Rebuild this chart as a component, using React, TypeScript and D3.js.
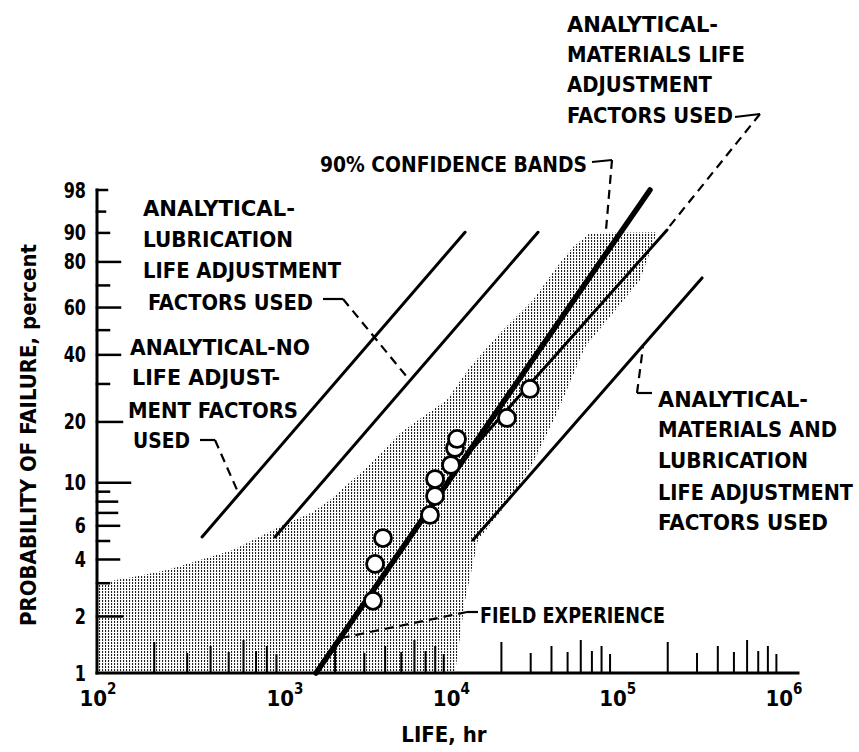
import React from 'react';
import * as d3 from 'd3';

const W = 859;
const H = 752;

// x axis: life, hr (log)
const lifeDecades = [1e2, 1e3, 1e4, 1e5, 1e6];
const decadeExp = ['2', '3', '4', '5', '6'];
const minorMultipliers = [2, 3, 4, 5, 6, 7, 8, 9];
const minorTickLen = [30, 19, 26, 20, 32, 21, 26, 18];

// y axis: probability of failure, percent (Weibull)
const pctTicks = [98, 95, 90, 80, 70, 60, 50, 40, 30, 20, 10, 9, 8, 7, 6, 5, 4, 3, 2];
const pctTickLen = [10, 8, 12, 23, 12, 23, 12, 23, 12, 25, 33, 12, 20, 20, 22, 12, 22, 12, 25];
const pctLabels = [98, 90, 80, 60, 40, 20, 10, 6, 4, 2, 1];

// field failures
const failLife = [3380, 3480, 3880, 7440, 7980, 7980, 9950, 10520, 10820, 21600, 29700];
const failPct = [2.42, 3.79, 5.18, 6.83, 8.55, 10.44, 12.29, 14.94, 16.54, 20.9, 28.5];

// straight Weibull lines
const lineIds = ['noAdj', 'lub', 'field', 'mat', 'matLub'];
const lineLife0 = [360, 884, 1536, 11270, 13500];
const lineLife1 = [12090, 33200, 156400, 198000, 321500];
const linePct0 = [5.25, 5.25, 1, 12.6, 5.06];
const linePct1 = [90.2, 90.2, 98, 90.8, 73.3];

// 90% confidence band outline
const bandLife = [100, 154, 234, 351, 527, 976, 1474, 1864, 3112, 4913, 9420, 12950, 19610, 30970, 43180, 53890, 68200,
  172400, 136200, 93760, 63620, 43180, 30970, 22520, 14470, 12090, 10520, 100];
const bandPct = [3.0, 3.24, 3.52, 3.97, 4.49, 6.06, 7.08, 8.16, 12.0, 17.7, 25.4, 35.6, 48.8, 63.4, 78.0, 85.6, 90.0,
  90.2, 72.4, 57.5, 43.0, 22.05, 12.58, 8.16, 5.06, 2.44, 1.0, 1.0];

// callout text
const noteLines = [
  ['ANALYTICAL-', 'LUBRICATION', 'LIFE ADJUSTMENT', 'FACTORS USED'],
  ['ANALYTICAL-NO', 'LIFE ADJUST-', 'MENT FACTORS', 'USED'],
  ['ANALYTICAL-', 'MATERIALS LIFE', 'ADJUSTMENT', 'FACTORS USED'],
  ['90% CONFIDENCE BANDS'],
  ['ANALYTICAL-', 'MATERIALS AND', 'LUBRICATION', 'LIFE ADJUSTMENT', 'FACTORS USED'],
  ['FIELD EXPERIENCE'],
];
const noteX = [[143, 143, 143, 148], [130, 132, 128, 133], [567, 567, 567, 567], [320], [658, 658, 658, 658, 658], [480]];
const noteY = [[216, 247, 278, 310], [355, 385, 418, 448], [32, 62, 92, 123], [172], [407, 437, 468, 500, 530], [623]];
const noteW = [[152, 150, 198, 165], [180, 148, 170, 57], [151, 178, 145, 166], [267], [150, 179, 150, 195, 170], [185]];

// leaders: start + elbow near text (px), end on a line (life, pct)
const leaderStart = [[323, 299, 343, 299], [200, 440, 215, 440], [592, 162, 612, 160], [735, 117, 760, 114], [652, 393, 637, 393], [478, 612, 467, 612]];
const leaderEndLife = [5414, 554, 85090, 200700, 142000, 2201];
const leaderEndPct = [32.2, 9.18, 90.8, 91.3, 43.0, 1.54];

const FONT = "'DejaVu Sans Condensed', 'DejaVu Sans', sans-serif";

const x = d3.scaleLog().domain([1e2, 1e3, 1e6]).range([98, 285, 784]);
const weib = (p: number) => Math.log(-Math.log(1 - p / 100));
const yLin = d3.scaleLinear().domain([weib(1), weib(98)]).range([673, 190]);
const y = (p: number) => yLin(weib(p));

const X0 = 97;
const Y0 = y(1);

export default function App() {
  const bandPts: [number, number][] = bandLife.map((l, i) => [x(l), y(bandPct[i])]);
  const bandPath = d3.line()(bandPts) + 'Z';

  const minorTicks: { v: number; len: number }[] = [];
  lifeDecades.slice(0, -1).forEach(d => {
    minorMultipliers.forEach((m, i) => minorTicks.push({ v: d * m, len: minorTickLen[i] }));
  });

  return (
    <svg width={W} height={H} style={{ position: 'absolute', left: 0, top: 0, background: '#fff' }}>
      <defs>
        <pattern id="stipple" width="3" height="3" patternUnits="userSpaceOnUse">
          <rect x="0" y="0" width="1.1" height="2" fill="#222" />
        </pattern>
      </defs>
      <rect width={W} height={H} fill="#fff" />

      {/* confidence band */}
      <path d={bandPath} fill="url(#stipple)" stroke="none" />

      {/* axes */}
      <g stroke="#000" fill="none" strokeLinecap="square">
        <line x1={X0} y1={y(98)} x2={X0} y2={Y0} strokeWidth={3} />
        <line x1={X0} y1={Y0} x2={798} y2={Y0} strokeWidth={3} />
        {pctTicks.map((p, i) => (
          <line key={'yt' + p} x1={X0} x2={X0 + pctTickLen[i]} y1={y(p)} y2={y(p)} strokeWidth={2.5} />
        ))}
        {minorTicks.map(t => (
          <line key={'xt' + t.v} x1={x(t.v)} x2={x(t.v)} y1={Y0} y2={Y0 - t.len} strokeWidth={2} />
        ))}
      </g>

      {/* tick labels */}
      <g fontFamily={FONT} fontWeight="bold" fill="#000">
        {pctLabels.map(p => (
          <text key={'yl' + p} x={86} y={y(p)} dy="0.36em" textAnchor="end" fontSize={21}
            transform={`translate(86,0) scale(0.85,1) translate(-86,0)`}>{p}</text>
        ))}
        {lifeDecades.map((d, i) => (
          <text key={'xl' + d} x={x(d)} y={706} textAnchor="middle" fontSize={22}>
            10<tspan fontSize={15} dy={-12}>{decadeExp[i]}</tspan>
          </text>
        ))}
        <text x={444} y={742} textAnchor="middle" fontSize={22}>LIFE, hr</text>
        <text transform={`translate(36,435) rotate(-90)`} textAnchor="middle" fontSize={22}>
          PROBABILITY OF FAILURE, percent
        </text>
      </g>

      {/* Weibull lines */}
      <g stroke="#000" strokeLinecap="round" fill="none">
        {lineIds.map((id, i) => (
          <line key={id} x1={x(lineLife0[i])} y1={y(linePct0[i])} x2={x(lineLife1[i])} y2={y(linePct1[i])}
            strokeWidth={id === 'field' ? 5.5 : 3} />
        ))}
      </g>

      {/* field failures */}
      <g stroke="#000" strokeWidth={2.8} fill="#fff">
        {failLife.map((l, i) => (
          <circle key={'f' + i} cx={x(l)} cy={y(failPct[i])} r={8.5} />
        ))}
      </g>

      {/* leaders */}
      <g stroke="#000" strokeWidth={2.2} fill="none">
        {leaderStart.map((s, i) => (
          <g key={'ld' + i}>
            <line x1={s[0]} y1={s[1]} x2={s[2]} y2={s[3]} />
            <line x1={s[2]} y1={s[3]} x2={x(leaderEndLife[i])} y2={y(leaderEndPct[i])} strokeDasharray="9,6" />
          </g>
        ))}
      </g>

      {/* notes */}
      <g fontFamily={FONT} fontWeight="bold" fontSize={22} fill="#000">
        {noteLines.map((block, b) => block.map((t, j) => (
          <text key={'n' + b + j} x={noteX[b][j]} y={noteY[b][j]}
            textLength={noteW[b][j]} lengthAdjust="spacingAndGlyphs">{t}</text>
        )))}
      </g>
    </svg>
  );
}
